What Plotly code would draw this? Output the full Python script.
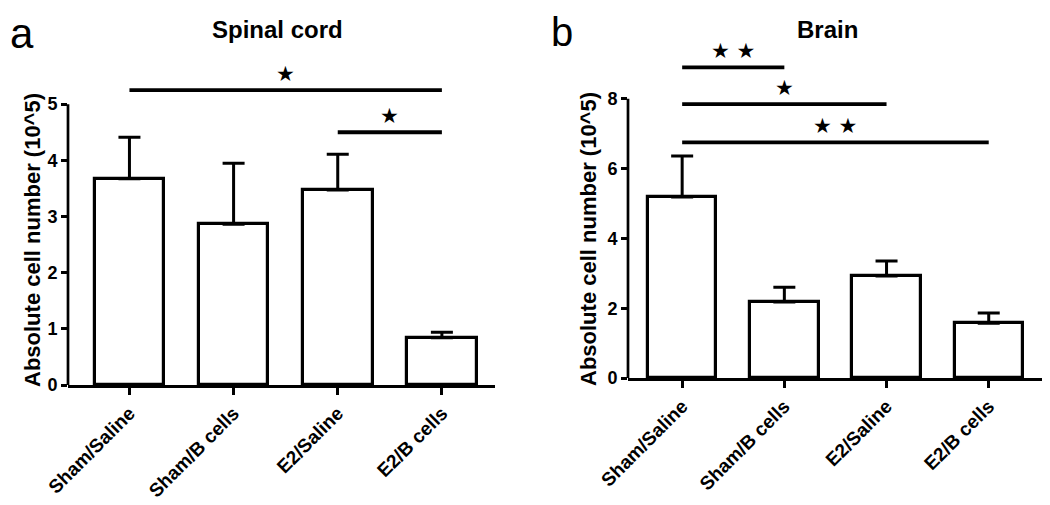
import plotly.graph_objects as go

# ---- data ----
categories = ["Sham/Saline", "Sham/B cells", "E2/Saline", "E2/B cells"]
spinal_mean = [3.67, 2.86, 3.47, 0.84]
spinal_sem = [0.74, 1.09, 0.64, 0.10]
brain_mean = [5.19, 2.18, 2.92, 1.57]
brain_sem = [1.17, 0.42, 0.43, 0.29]
spinal_ticks = [0, 1, 2, 3, 4, 5]
brain_ticks = [0, 2, 4, 6, 8]
# significance brackets: (from index, to index, height, label)
spinal_sig = [(0, 3, 5.25, "★"), (2, 3, 4.5, "★")]
brain_sig = [(0, 1, 8.9, "★★"), (0, 2, 7.85, "★"), (0, 3, 6.75, "★★")]

FONT = "Liberation Sans, Arial, sans-serif"
W, H = 1042, 497
OFF = 8  # page body margin


def px(x):
    return (x - OFF) / W


def py(y):
    return 1 - (y - OFF) / H


fig = go.Figure()


def add_panel(mean, sem, xa, ya):
    fig.add_trace(go.Bar(
        x=categories, y=mean, xaxis=xa, yaxis=ya, width=0.67,
        marker=dict(color="white", line=dict(color="black", width=3.2)),
        error_y=dict(type="data", array=sem, arrayminus=[0] * len(sem), symmetric=False,
                     width=11, thickness=3, color="black"),
        showlegend=False, hoverinfo="skip"))


add_panel(spinal_mean, spinal_sem, "x", "y")
add_panel(brain_mean, brain_sem, "x2", "y2")

axis_common = dict(showgrid=False, zeroline=False, ticks="outside", tickwidth=2.5,
                   tickcolor="black", color="black", automargin=False)
tickfont = dict(family=FONT, size=18, color="black", weight="bold")
xtickfont = dict(family=FONT, size=19, color="black", weight="bold")

fig.update_layout(
    width=W, height=H,
    margin=dict(l=0, r=0, t=0, b=0, autoexpand=False),
    plot_bgcolor="white", paper_bgcolor="white",
    bargap=0,
    xaxis=dict(domain=[px(68), px(495)], range=[-0.59, 3.51], anchor="y",
               showline=True, linewidth=2.7, linecolor="black", ticklen=7,
               tickangle=-45, tickfont=xtickfont, **axis_common),
    yaxis=dict(domain=[py(385), py(48)], range=[0, 6.0], anchor="x",
               tickvals=spinal_ticks, ticklen=6, showline=False,
               tickfont=tickfont, **axis_common),
    xaxis2=dict(domain=[px(628), px(1048)], range=[-0.53, 3.58], anchor="y2",
                showline=True, linewidth=2.7, linecolor="black", ticklen=7,
                tickangle=-45, tickfont=xtickfont, **axis_common),
    yaxis2=dict(domain=[py(378), py(43)], range=[0, 9.6], anchor="x2",
                tickvals=brain_ticks, ticklen=6, showline=False,
                tickfont=tickfont, **axis_common),
)

shapes = []
annotations = []
# y axis lines that stop at the top tick
for xa, ya, ticks in [("x", "y", spinal_ticks), ("x2", "y2", brain_ticks)]:
    shapes.append(dict(type="line", xref=f"{xa} domain", yref=ya, x0=0, x1=0,
                       y0=min(ticks), y1=max(ticks), line=dict(color="black", width=2.7)))

for xa, ya, sig in [("x", "y", spinal_sig), ("x2", "y2", brain_sig)]:
    for i, j, h, lab in sig:
        shapes.append(dict(type="line", xref=xa, yref=ya, x0=i, x1=j, y0=h, y1=h,
                           line=dict(color="black", width=3.8)))
        annotations.append(dict(x=(i + j) / 2, y=h, xref=xa, yref=ya, text=" ".join(lab),
                                showarrow=False, xanchor="center", yanchor="bottom", yshift=2,
                                font=dict(family="DejaVu Sans", size=21, color="black")))


def label(text, x, y, size, bold=True, angle=0, xanchor="center", yanchor="middle"):
    f = dict(family=FONT, size=size, color="black")
    if bold:
        f["weight"] = "bold"
    return dict(text=text, x=px(x), y=py(y), xref="paper", yref="paper",
                xanchor=xanchor, yanchor=yanchor, textangle=angle,
                showarrow=False, font=f)


annotations += [
    label("Spinal cord", 277, 30, 24),
    label("Brain", 827, 30, 24),
    label("Absolute cell number (10^5)", 33, 240, 22, angle=-90),
    label("Absolute cell number (10^5)", 588, 239, 22, angle=-90),
    label("a", 8, 8, 42, bold=False, xanchor="left", yanchor="top"),
    label("b", 549, 8, 40, bold=False, xanchor="left", yanchor="top"),
]

fig.update_layout(shapes=shapes, annotations=annotations)
fig.write_html("out.html")
